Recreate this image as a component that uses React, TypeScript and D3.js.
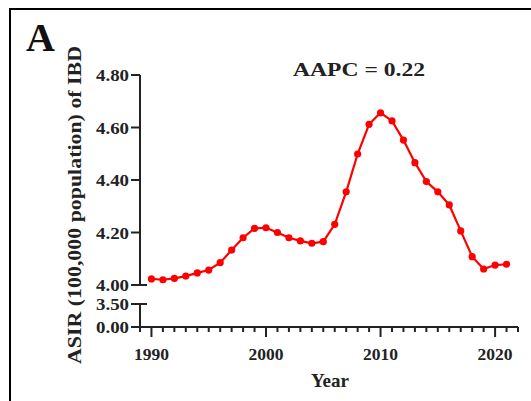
import { line, scaleLinear, select } from 'd3'
import { useEffect, useRef } from 'react'

const years = [1990, 1991, 1992, 1993, 1994, 1995, 1996, 1997, 1998, 1999, 2000, 2001, 2002, 2003, 2004, 2005,
    2006, 2007, 2008, 2009, 2010, 2011, 2012, 2013, 2014, 2015, 2016, 2017, 2018, 2019, 2020, 2021]
const asir = [4.023, 4.020, 4.025, 4.034, 4.046, 4.057, 4.085, 4.133, 4.180, 4.216, 4.218, 4.200, 4.180, 4.168,
    4.159, 4.165, 4.231, 4.355, 4.499, 4.612, 4.656, 4.625, 4.552, 4.466, 4.394, 4.355, 4.305, 4.206, 4.108,
    4.061, 4.076, 4.079]
const upperTicks = [4.0, 4.2, 4.4, 4.6, 4.8]
const lowerTicks = [0, 3.5]
const xMajor = [1990, 2000, 2010, 2020]
const xMinor = [1989, 1990, 1991, 1992, 1993, 1994, 1995, 1996, 1997, 1998, 1999, 2000, 2001, 2002, 2003, 2004,
    2005, 2006, 2007, 2008, 2009, 2010, 2011, 2012, 2013, 2014, 2015, 2016, 2017, 2018, 2019, 2020, 2021, 2022]

const width = 531
const height = 401
const font = '"Liberation Serif", "Times New Roman", serif'

export default function App() {
    const ref = useRef(null)

    useEffect(() => {
        const svg = select(ref.current)
        svg.selectAll('*').remove()

        const x = scaleLinear().domain([1989, 2022]).range([140, 518])
        const yTop = scaleLinear().domain([4.0, 4.8]).range([285, 75])
        const yBot = scaleLinear().domain([0, 3.5]).range([327, 304])
        const axisX = x(1989)

        // frame
        svg.append('path')
            .attr('d', `M10,${height} L10,9 L${width},9`)
            .attr('fill', 'none')
            .attr('stroke', '#000')
            .attr('stroke-width', 2)

        const ax = svg.append('g').attr('stroke', '#222').attr('stroke-width', 2).attr('fill', 'none')

        // y axis, upper segment
        ax.append('line').attr('x1', axisX).attr('x2', axisX).attr('y1', yTop(4.8)).attr('y2', yTop(4.0))
        upperTicks.forEach(t => {
            ax.append('line')
                .attr('x1', axisX - 9).attr('x2', t === 4.0 ? axisX + 7 : axisX)
                .attr('y1', yTop(t)).attr('y2', yTop(t))
        })
        // y axis, lower segment
        ax.append('line').attr('x1', axisX).attr('x2', axisX).attr('y1', yBot(3.5)).attr('y2', yBot(0))
        lowerTicks.forEach(t => {
            ax.append('line')
                .attr('x1', axisX - 9).attr('x2', t === 3.5 ? axisX + 7 : axisX)
                .attr('y1', yBot(t)).attr('y2', yBot(t))
        })

        // x axis
        const y0 = yBot(0)
        ax.append('line').attr('x1', axisX).attr('x2', x(2022)).attr('y1', y0).attr('y2', y0)
        xMinor.forEach(t => {
            ax.append('line').attr('x1', x(t)).attr('x2', x(t)).attr('y1', y0)
                .attr('y2', y0 + (xMajor.includes(t) ? 10 : 5))
        })

        const txt = svg.append('g')
            .attr('font-family', font)
            .attr('font-weight', 'bold')
            .attr('fill', '#222')

        upperTicks.forEach(t => {
            txt.append('text')
                .attr('x', axisX - 11).attr('y', yTop(t) + 6)
                .attr('text-anchor', 'end').attr('font-size', 17)
                .attr('textLength', 33).attr('lengthAdjust', 'spacingAndGlyphs')
                .text(t.toFixed(2))
        })
        lowerTicks.forEach(t => {
            txt.append('text')
                .attr('x', axisX - 11).attr('y', yBot(t) + 6)
                .attr('text-anchor', 'end').attr('font-size', 17)
                .attr('textLength', 33).attr('lengthAdjust', 'spacingAndGlyphs')
                .text(t.toFixed(2))
        })
        xMajor.forEach(t => {
            txt.append('text')
                .attr('x', x(t)).attr('y', 360)
                .attr('text-anchor', 'middle').attr('font-size', 17)
                .attr('textLength', 35).attr('lengthAdjust', 'spacingAndGlyphs')
                .text(t)
        })

        txt.append('text')
            .attr('x', 330).attr('y', 387)
            .attr('text-anchor', 'middle').attr('font-size', 19)
            .text('Year')

        txt.append('text')
            .attr('transform', 'translate(81,205) rotate(-90)')
            .attr('text-anchor', 'middle').attr('font-size', 18)
            .attr('textLength', 318).attr('lengthAdjust', 'spacingAndGlyphs')
            .text('ASIR (100,000 population) of IBD')

        txt.append('text')
            .attr('x', 293).attr('y', 76)
            .attr('font-size', 19)
            .attr('textLength', 132).attr('lengthAdjust', 'spacingAndGlyphs')
            .text('AAPC = 0.22')

        txt.append('text')
            .attr('x', 26).attr('y', 51)
            .attr('font-size', 40)
            .attr('fill', '#111')
            .text('A')

        // series
        const pts = years.map((yr, i) => [x(yr), yTop(asir[i])] as [number, number])
        svg.append('path')
            .attr('d', line()(pts))
            .attr('fill', 'none')
            .attr('stroke', '#ff0000')
            .attr('stroke-width', 2.2)

        svg.append('g').selectAll('circle')
            .data(pts)
            .join('circle')
            .attr('cx', d => d[0])
            .attr('cy', d => d[1])
            .attr('r', 3.6)
            .attr('fill', '#ff0000')
    }, [])

    return (
        <svg ref={ref} width={width} height={height}
            style={{ position: 'absolute', left: 0, top: 0, background: '#fff' }} />
    )
}
